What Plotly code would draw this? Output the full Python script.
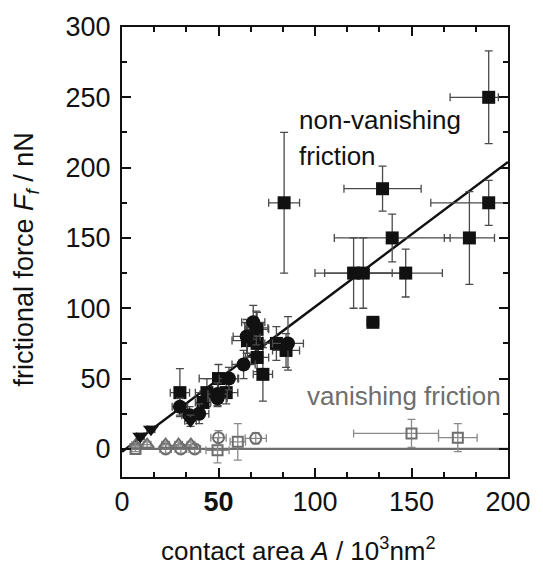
import plotly.graph_objects as go

# ---- data ----
# non-vanishing friction: filled squares
sq_x = [190, 135, 190, 140, 180, 120, 125, 147, 130, 84,
        30, 50, 54, 44, 42, 65, 70, 70, 73, 80, 85, 70]
sq_y = [250, 185, 175, 150, 150, 125, 125, 125, 90, 175,
        40, 50, 40, 40, 33, 77, 75, 65, 53, 75, 70, 85]
sq_xp = [5, 20, 15, 30, 13, 20, 20, 19, 3, 8,
         5, 10, 6, 6, 4, 8, 8, 6, 5, 6, 7, 6]
sq_xm = [20, 20, 30, 30, 13, 20, 20, 19, 3, 8,
         5, 10, 6, 6, 4, 8, 8, 6, 5, 6, 7, 6]
sq_ye = [33, 16, 16, 17, 33, 25, 25, 17, 3, 50,
         17, 10, 8, 10, 8, 12, 12, 10, 19, 12, 12, 12]

# filled circles
ci_x = [30, 35, 40, 49.5, 49.5, 55.4, 63, 64.6, 68, 69.6, 86]
ci_y = [30, 24, 25, 39, 36, 50, 60, 80, 90, 86, 75]
ci_xe = [4, 4, 5, 5, 5, 5, 6, 7, 6, 6, 8]
ci_ye = [6, 6, 7, 8, 6, 8, 10, 12, 12, 12, 19]

# filled down-triangles
tr_x = [9.5, 15, 35.5]
tr_y = [9, 14, 20]
tr_xe = [2, 2, 3]
tr_ye = [2, 2, 4]

# vanishing friction: open symbols
osq_x = [7, 49.5, 60, 150, 174]
osq_y = [0, -1, 5, 11, 8]
osq_xp = [2, 6, 4, 14, 10]
osq_xm = [2, 6, 4, 30, 10]
osq_ye = [2, 9, 13, 10, 10]

oci_x = [22.6, 30.5, 37.7, 50, 69.3]
oci_y = [0, 0, 0, 8, 7.5]
oci_xe = [3, 3, 3, 4, 5.5]
oci_ye = [3, 3, 3, 5, 4]

otr_x = [7, 13, 22.6, 29.3, 35.7]
otr_y = [2.5, 3, 3, 3, 3]
otr_xe = [2, 2, 2, 2, 2]
otr_ye = [2, 2, 2, 2, 2]

fit_x = [0, 200]
fit_y = [-2, 204]
zero_x = [5, 200]
zero_y = [0, 0]

x_ticks = [0, 50, 100, 150, 200]
x_ticktext = ["0", "<b>50</b>", "100", "150", "200"]
y_ticks = [0, 50, 100, 150, 200, 250, 300]

BLACK = "#111111"
GRAY = "#6e6e6e"
EB = "#4a4a4a"
FONT = "Liberation Sans, Arial, sans-serif"

fig = go.Figure()

# lines
fig.add_trace(go.Scatter(x=zero_x, y=zero_y, mode="lines",
                         line=dict(color=GRAY, width=2.2), showlegend=False))
fig.add_trace(go.Scatter(x=fit_x, y=fit_y, mode="lines",
                         line=dict(color=BLACK, width=2.4), showlegend=False))

def ex(p, m=None, color=EB):
    d = dict(type="data", array=p, color=color, thickness=1.3, width=4)
    if m is not None:
        d["symmetric"] = False
        d["arrayminus"] = m
    return d

# open gray
fig.add_trace(go.Scatter(x=osq_x, y=osq_y, mode="markers",
                         marker=dict(symbol="square-open", size=10, color=GRAY,
                                     line=dict(width=2, color=GRAY)),
                         error_x=ex(osq_xp, osq_xm, "#8a8a8a"),
                         error_y=ex(osq_ye, None, "#8a8a8a"), showlegend=False))
fig.add_trace(go.Scatter(x=oci_x, y=oci_y, mode="markers",
                         marker=dict(symbol="circle-open", size=11, color=GRAY,
                                     line=dict(width=2, color=GRAY)),
                         error_x=ex(oci_xe, None, "#8a8a8a"),
                         error_y=ex(oci_ye, None, "#8a8a8a"), showlegend=False))
fig.add_trace(go.Scatter(x=otr_x, y=otr_y, mode="markers",
                         marker=dict(symbol="triangle-up-open", size=12, color=GRAY,
                                     line=dict(width=2, color=GRAY)),
                         error_x=ex(otr_xe, None, "#8a8a8a"),
                         error_y=ex(otr_ye, None, "#8a8a8a"), showlegend=False))

# filled black
fig.add_trace(go.Scatter(x=sq_x, y=sq_y, mode="markers",
                         marker=dict(symbol="square", size=13, color=BLACK),
                         error_x=ex(sq_xp, sq_xm), error_y=ex(sq_ye),
                         showlegend=False))
fig.add_trace(go.Scatter(x=ci_x, y=ci_y, mode="markers",
                         marker=dict(symbol="circle", size=14, color=BLACK),
                         error_x=ex(ci_xe), error_y=ex(ci_ye), showlegend=False))
fig.add_trace(go.Scatter(x=tr_x, y=tr_y, mode="markers",
                         marker=dict(symbol="triangle-down", size=14, color=BLACK),
                         error_x=ex(tr_xe), error_y=ex(tr_ye), showlegend=False))

axis_common = dict(showline=True, linecolor=BLACK, linewidth=2, mirror="allticks",
                   ticks="inside", ticklen=9, tickwidth=1.5, tickcolor=BLACK,
                   showgrid=False, zeroline=False,
                   tickfont=dict(family=FONT, size=27, color="#111111"))

fig.update_xaxes(range=[0, 200], tickvals=x_ticks, ticktext=x_ticktext,
                 minor=dict(dtick=50 / 3, ticks="inside", ticklen=5, tickwidth=1.5,
                            tickcolor=BLACK, showgrid=False),
                 ticklabelstandoff=0, **axis_common)
fig.update_yaxes(range=[-20, 300], tickvals=y_ticks,
                 minor=dict(dtick=25, ticks="inside", ticklen=5, tickwidth=1.5,
                            tickcolor=BLACK, showgrid=False),
                 ticklabelstandoff=4, **axis_common)

fig.add_annotation(x=90.5, y=234, xref="x", yref="y", text="non-vanishing",
                   showarrow=False, xanchor="left", yanchor="middle",
                   font=dict(family=FONT, size=26, color=BLACK))
fig.add_annotation(x=90.5, y=208, xref="x", yref="y", text="friction",
                   showarrow=False, xanchor="left", yanchor="middle",
                   font=dict(family=FONT, size=26, color=BLACK))
fig.add_annotation(x=95, y=37.5, xref="x", yref="y", text="vanishing friction",
                   showarrow=False, xanchor="left", yanchor="middle",
                   font=dict(family=FONT, size=26, color=GRAY))

fig.add_annotation(x=0.458, y=-0.161, xref="paper", yref="paper",
                   text="contact area <i>A</i> / 10<sup>3</sup>nm<sup>2</sup>",
                   showarrow=False, xanchor="center", yanchor="middle",
                   font=dict(family=FONT, size=26, color=BLACK))
fig.add_annotation(x=-0.249, y=0.483, xref="paper", yref="paper",
                   text="frictional force <i>F</i><sub><i>f</i></sub> / nN",
                   textangle=-90, showarrow=False, xanchor="center", yanchor="middle",
                   font=dict(family=FONT, size=27, color=BLACK))

fig.update_layout(width=543, height=566,
                  margin=dict(l=122, r=24, t=24, b=89),
                  paper_bgcolor="white", plot_bgcolor="white",
                  showlegend=False)

fig.write_html("out.html")
